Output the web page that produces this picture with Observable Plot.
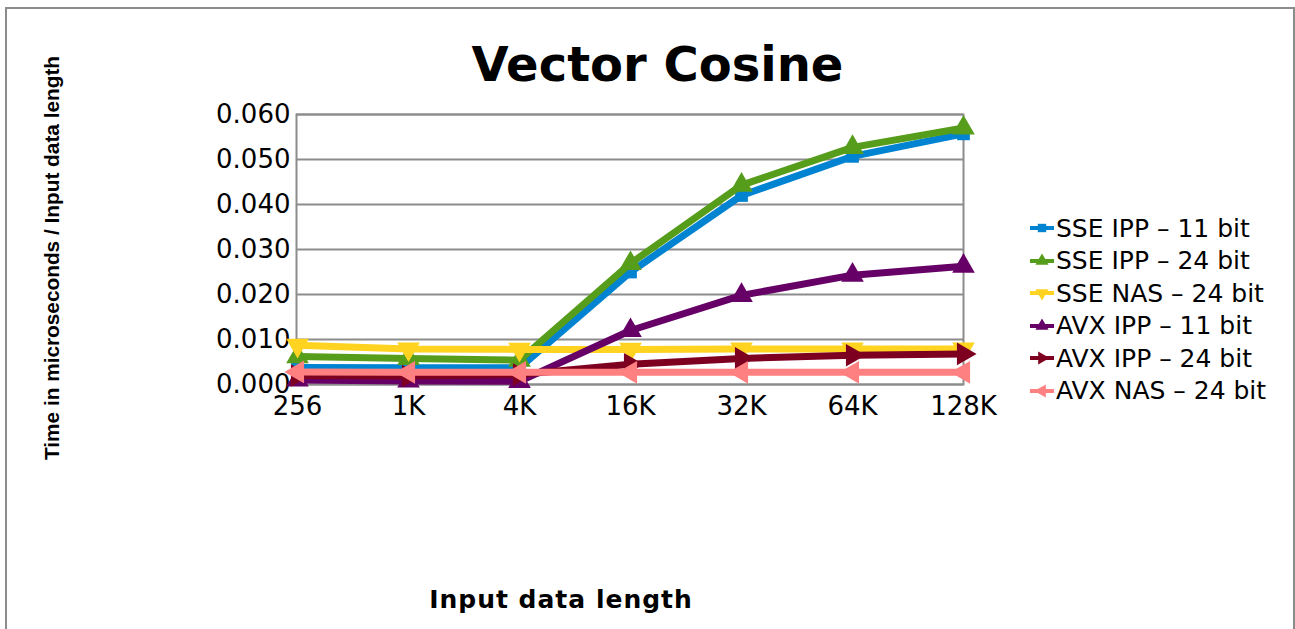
<!DOCTYPE html>
<html>
<head>
<meta charset="utf-8">
<script src="https://cdn.jsdelivr.net/npm/d3@7"></script>
<script src="https://cdn.jsdelivr.net/npm/@observablehq/plot@0.6"></script>
<style>
  html, body { margin: 0; padding: 0; background: #fff; }
  #wrap { position: relative; width: 1295px; height: 629px; overflow: hidden; font-family: "DejaVu Sans", sans-serif; }
  #border { position: absolute; left: 5px; top: 7px; width: 1290px; height: 640px; border: 2px solid #8c8c8c; box-sizing: border-box; }
  #title { position: absolute; left: 0; width: 1315px; top: 36px; text-align: center; font: bold 48px "DejaVu Sans", sans-serif; color: #000; }
  #ytitle { position: absolute; left: 52px; top: 258px; transform: translate(-50%, -50%) rotate(-90deg); white-space: nowrap; font: bold 20.8px "Liberation Sans", Arial, sans-serif; color: #000; }
  #xtitle { position: absolute; left: 561px; top: 585px; transform: translateX(-50%); white-space: nowrap; font: bold 25px "DejaVu Sans", sans-serif; letter-spacing: 1px; color: #000; }
  #legend { position: absolute; left: 1029px; top: 212px; font: 25px "DejaVu Sans", sans-serif; color: #000; }
  .item { display: flex; align-items: center; height: 32.5px; white-space: nowrap; }
  .item svg { margin-right: 1px; }
  #chart { position: absolute; left: 0; top: 0; }
</style>
</head>
<body>
<div id="wrap">
  <div id="border"></div>
  <div id="chart"></div>
  <div id="title">Vector Cosine</div>
  <div id="ytitle">Time in microseconds / Input data length</div>
  <div id="xtitle">Input data length</div>
  <div id="legend"></div>
</div>
<script>
// ---- data ----
const categories = ["256", "1K", "4K", "16K", "32K", "64K", "128K"];
const seriesNames = ["SSE IPP – 11 bit", "SSE IPP – 24 bit", "SSE NAS – 24 bit", "AVX IPP – 11 bit", "AVX IPP – 24 bit", "AVX NAS – 24 bit"];
const sseIpp11 = [0.0038, 0.0037, 0.0037, 0.0250, 0.0420, 0.0507, 0.0557];
const sseIpp24 = [0.0062, 0.0058, 0.0054, 0.0269, 0.0443, 0.0527, 0.0570];
const sseNas24 = [0.0087, 0.0079, 0.0078, 0.0078, 0.0079, 0.0079, 0.0079];
const avxIpp11 = [0.0010, 0.0008, 0.0007, 0.0120, 0.0198, 0.0243, 0.0263];
const avxIpp24 = [0.0020, 0.0019, 0.0022, 0.0045, 0.0058, 0.0065, 0.0068];
const avxNas24 = [0.0028, 0.0027, 0.0027, 0.0027, 0.0027, 0.0027, 0.0027];
const yTicks = [0, 0.01, 0.02, 0.03, 0.04, 0.05, 0.06];

const seriesValues = [sseIpp11, sseIpp24, sseNas24, avxIpp11, avxIpp24, avxNas24];
const colors = ["#0084d1", "#579d1c", "#ffd320", "#660066", "#7e0021", "#ff8080"];
const symbols = ["square", "triangle", "triangle", "triangle", "triangle", "triangle"];
const rotations = [0, 0, 180, 0, 90, -90];

const marks = [
  Plot.gridY(yTicks, {stroke: "#8c8c8c", strokeOpacity: 1, strokeWidth: 2}),
  Plot.frame({stroke: "#8c8c8c", strokeWidth: 2}),
  Plot.axisY(yTicks, {tickSize: 0, tickPadding: 6, fontSize: 26, label: null, tickFormat: d3.format(".3f")}),
  Plot.axisX(categories, {tickSize: 0, tickPadding: 12, fontSize: 26, label: null})
];
seriesNames.forEach((name, i) => {
  const rows = categories.map((c, j) => ({cat: c, value: seriesValues[i][j]}));
  marks.push(Plot.line(rows, {x: "cat", y: "value", stroke: colors[i], strokeWidth: 7, strokeLinejoin: "round"}));
  marks.push(Plot.dot(rows, {x: "cat", y: "value", fill: colors[i], stroke: null, symbol: symbols[i], r: symbols[i] === "square" ? 7.2 : 8.4, rotate: rotations[i]}));
});

const chart = Plot.plot({
  width: 1295,
  height: 629,
  marginLeft: 296,
  marginRight: 332,
  marginTop: 114,
  marginBottom: 245,
  style: {fontFamily: "DejaVu Sans, sans-serif", color: "#000", background: "transparent"},
  x: {type: "point", domain: categories, padding: 0, axis: null},
  y: {domain: [0, 0.06], axis: null},
  marks
});
document.getElementById("chart").appendChild(chart);

// ---- legend ----
const legend = document.getElementById("legend");
seriesNames.forEach((name, i) => {
  const item = document.createElement("div");
  item.className = "item";
  const sym = symbols[i] === "square" ? d3.symbolSquare : d3.symbolTriangle;
  const path = d3.symbol(sym, symbols[i] === "square" ? 70 : 75)();
  item.innerHTML = `<svg width="26" height="20" viewBox="-13 -10 26 20">
      <line x1="-12" x2="12" y1="0" y2="0" stroke="${colors[i]}" stroke-width="4"/>
      <path d="${path}" fill="${colors[i]}" transform="rotate(${rotations[i]})"/>
    </svg><span>${name}</span>`;
  legend.appendChild(item);
});
</script>
</body>
</html>
